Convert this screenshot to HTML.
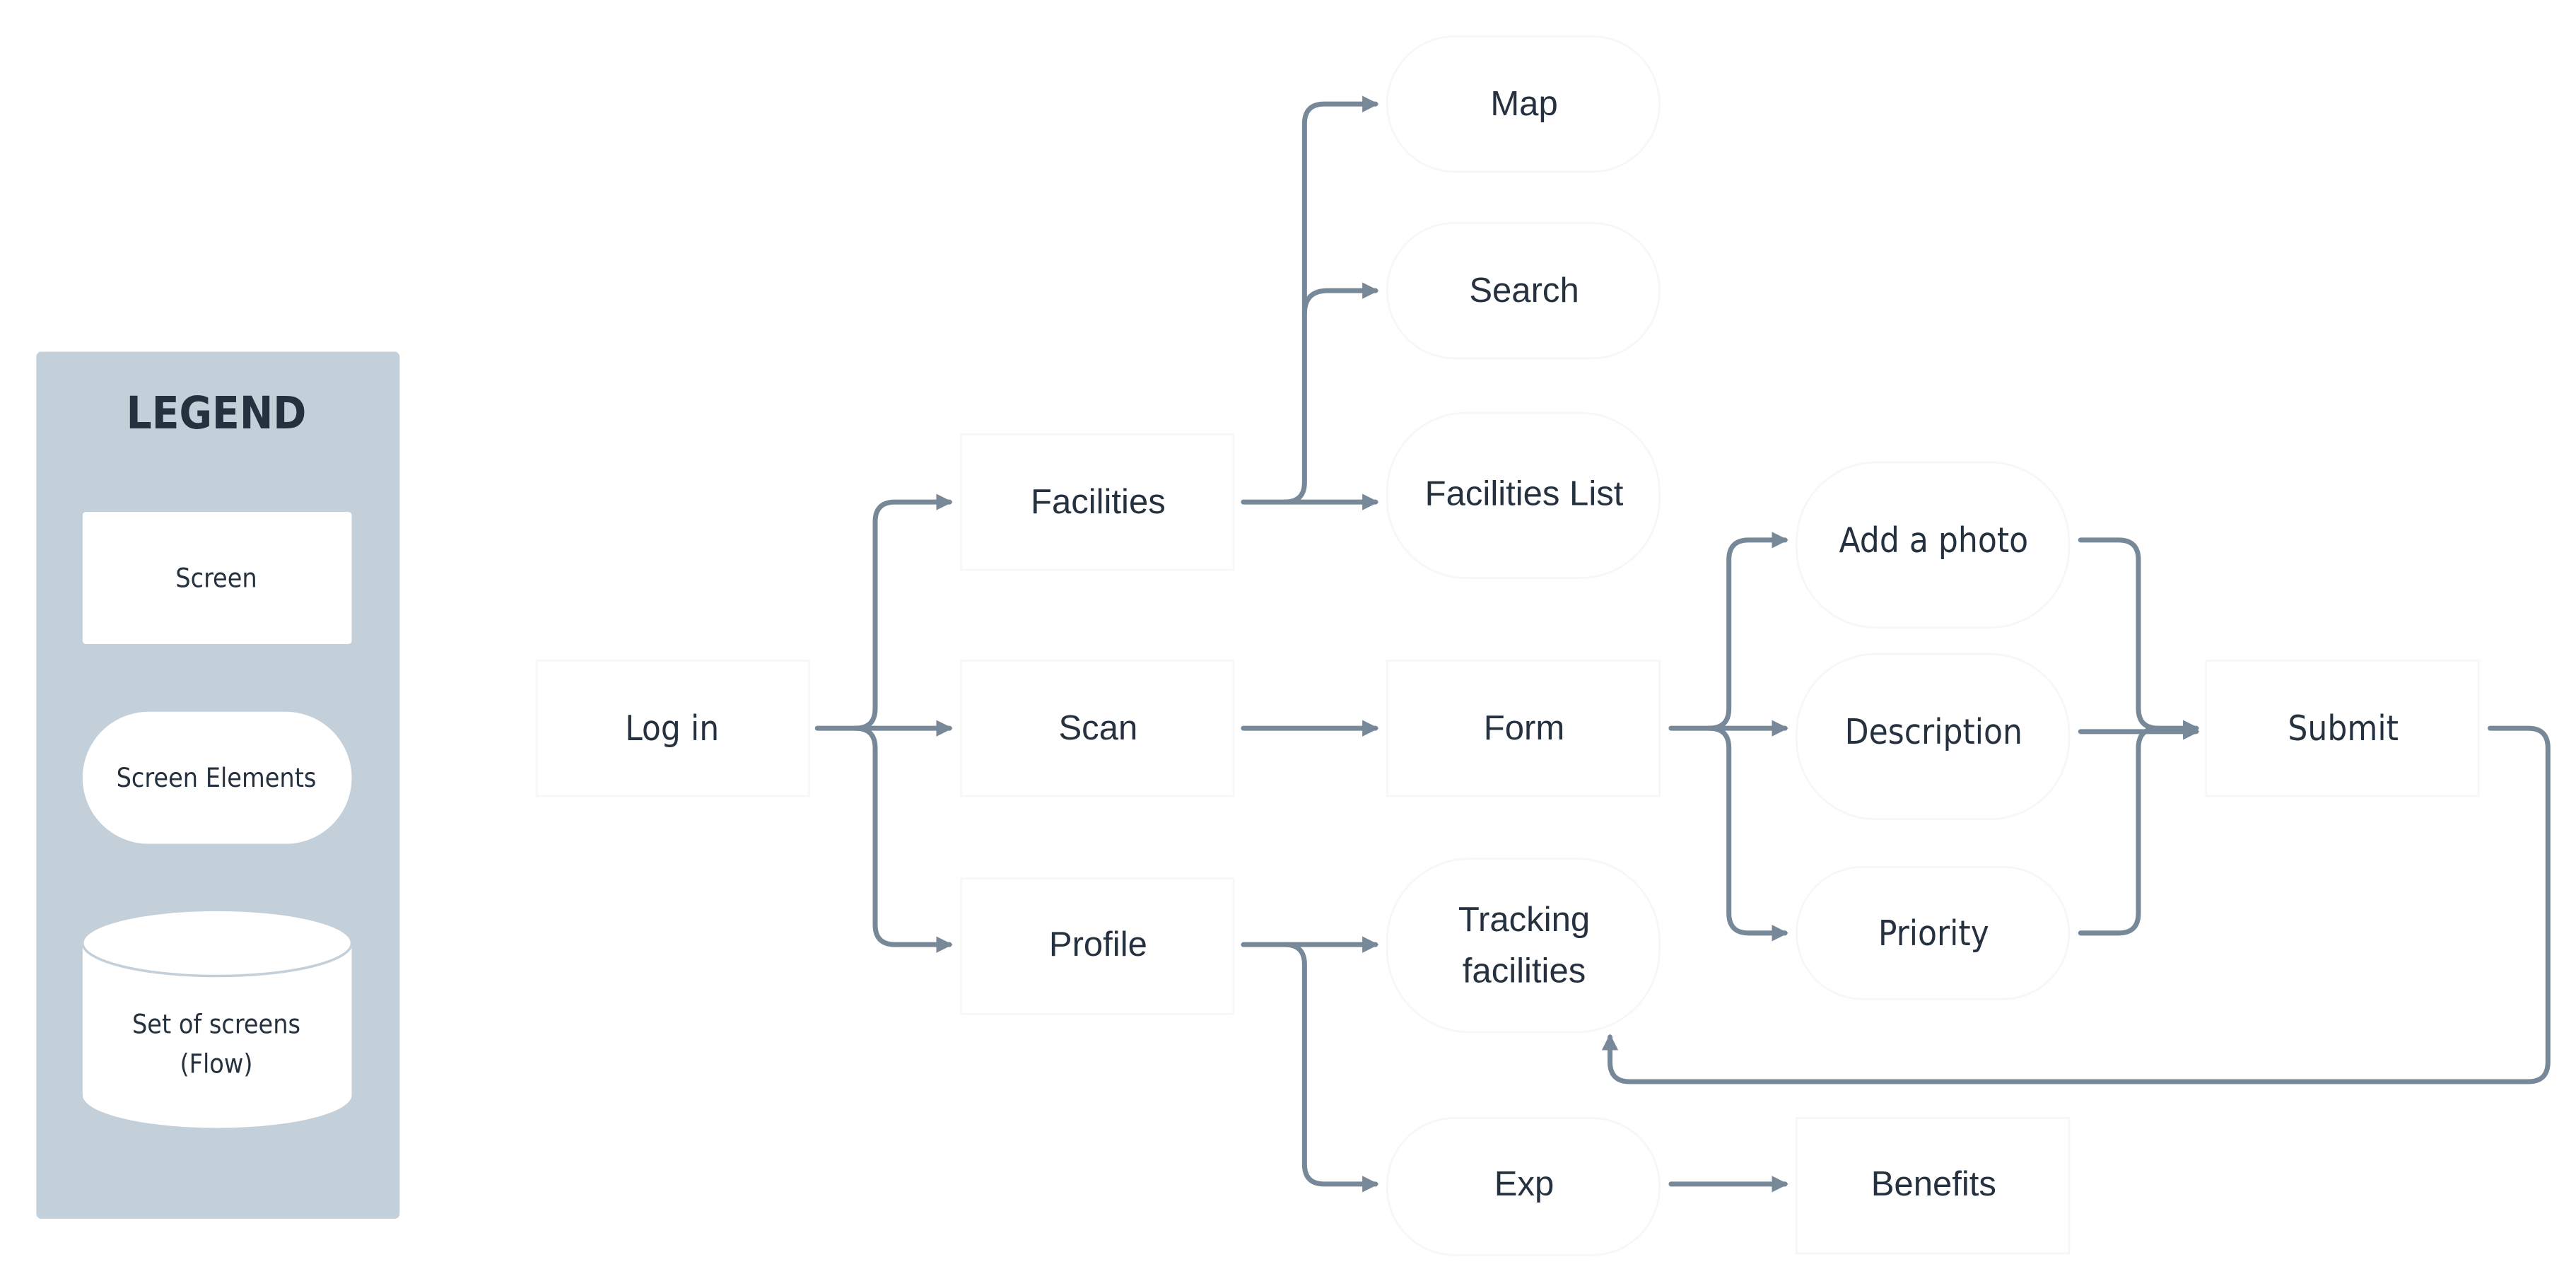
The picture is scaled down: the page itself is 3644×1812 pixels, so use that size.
<!DOCTYPE html>
<html><head><meta charset="utf-8"><style>
html,body{margin:0;padding:0;background:#fff;}
svg{display:block;}
text{font-family:"Liberation Sans",sans-serif;fill:#25313f;text-anchor:middle;dominant-baseline:central;}
.n{font-size:21px;}
.c{font-family:"DejaVu Sans Condensed","Liberation Sans",sans-serif;}
.l{stroke:#778899;stroke-width:3;fill:none;stroke-linecap:round;stroke-linejoin:round;}
.b{fill:#fff;stroke:#f6f7f8;stroke-width:1.2;}
</style></head><body>
<svg width="3644" height="1812" viewBox="0 0 1560 775.7" preserveAspectRatio="none" xmlns="http://www.w3.org/2000/svg">
<defs><marker id="a" markerWidth="12" markerHeight="12" refX="8" refY="5" orient="auto" markerUnits="userSpaceOnUse"><path d="M0,0 L10,5 L0,10 Z" fill="#778899"/></marker></defs>
<rect x="22" y="213" width="220" height="525" rx="3" fill="#c3cfd9"/>
<text x="131" y="250" style="font-size:27px;font-weight:bold" class="c">LEGEND</text>
<rect x="50" y="310" width="163" height="80" rx="2" fill="#fff"/>
<text x="131" y="350" class="c" style="font-size:16px">Screen</text>
<rect x="50" y="431" width="163" height="80" rx="40" fill="#fff"/>
<text x="131" y="471" class="c" style="font-size:16px">Screen Elements</text>
<path d="M50,571 L50,663 A81.5,20 0 0 0 213,663 L213,571 Z" fill="#fff"/>
<ellipse cx="131.5" cy="571" rx="81.5" ry="20" fill="#fff" stroke="#c3cfd9" stroke-width="1.5"/>
<text x="131" y="620" class="c" style="font-size:16px">Set of screens</text>
<text x="131" y="644" class="c" style="font-size:16px">(Flow)</text>
<rect class="b" x="325" y="400" width="165" height="82"/><text class="n c" x="407" y="441">Log in</text>
<rect class="b" x="582" y="263" width="165" height="82"/><text class="n" x="665" y="304">Facilities</text>
<rect class="b" x="582" y="400" width="165" height="82"/><text class="n" x="665" y="441">Scan</text>
<rect class="b" x="582" y="532" width="165" height="82"/><text class="n" x="665" y="572">Profile</text>
<rect class="b" x="840" y="22" width="165" height="82" rx="41"/><text class="n" x="923" y="63">Map</text>
<rect class="b" x="840" y="135" width="165" height="82" rx="41"/><text class="n" x="923" y="176">Search</text>
<rect class="b" x="840" y="250" width="165" height="100" rx="48"/><text class="n" x="923" y="299">Facilities List</text>
<rect class="b" x="840" y="400" width="165" height="82"/><text class="n" x="923" y="441">Form</text>
<rect class="b" x="840" y="520" width="165" height="105" rx="50"/><text class="n" x="923" y="557">Tracking</text><text class="n" x="923" y="588">facilities</text>
<rect class="b" x="840" y="677" width="165" height="83" rx="41"/><text class="n" x="923" y="717">Exp</text>
<rect class="b" x="1088" y="280" width="165" height="100" rx="48"/><text class="n c" x="1171" y="327">Add a photo</text>
<rect class="b" x="1088" y="396" width="165" height="100" rx="48"/><text class="n c" x="1171" y="443">Description</text>
<rect class="b" x="1088" y="525" width="165" height="80" rx="40"/><text class="n c" x="1171" y="565">Priority</text>
<rect class="b" x="1088" y="677" width="165" height="82"/><text class="n" x="1171" y="717">Benefits</text>
<rect class="b" x="1336" y="400" width="165" height="82"/><text class="n c" x="1419" y="441">Submit</text>
<path class="l" d="M495,441 H575" marker-end="url(#a)"/>
<path class="l" d="M518,441 Q530,441 530,429 V316 Q530,304 542,304 H575" marker-end="url(#a)"/>
<path class="l" d="M518,441 Q530,441 530,453 V560 Q530,572 542,572 H575" marker-end="url(#a)"/>
<path class="l" d="M753,304 H833" marker-end="url(#a)"/>
<path class="l" d="M778,304 Q790,304 790,292 V75 Q790,63 802,63 H833" marker-end="url(#a)"/>
<path class="l" d="M790,190 Q790,176 804,176 H833" marker-end="url(#a)"/>
<path class="l" d="M753,441 H833" marker-end="url(#a)"/>
<path class="l" d="M753,572 H833" marker-end="url(#a)"/>
<path class="l" d="M778,572 Q790,572 790,584 V705 Q790,717 802,717 H833" marker-end="url(#a)"/>
<path class="l" d="M1012,441 H1081" marker-end="url(#a)"/>
<path class="l" d="M1035,441 Q1047,441 1047,429 V339 Q1047,327 1059,327 H1081" marker-end="url(#a)"/>
<path class="l" d="M1035,441 Q1047,441 1047,453 V553 Q1047,565 1059,565 H1081" marker-end="url(#a)"/>
<path class="l" d="M1260,443 H1330" marker-end="url(#a)"/>
<path class="l" d="M1260,327 H1283 Q1295,327 1295,339 V429 Q1295,441 1307,441 H1330" marker-end="url(#a)"/>
<path class="l" d="M1260,565 H1283 Q1295,565 1295,553 V453 Q1295,441 1307,441"/>
<path class="l" d="M1012,717 H1081" marker-end="url(#a)"/>
<path class="l" d="M1508,441 H1531 Q1543,441 1543,453 V643 Q1543,655 1531,655 H987 Q975,655 975,643 V628" marker-end="url(#a)"/>
</svg>
</body></html>
